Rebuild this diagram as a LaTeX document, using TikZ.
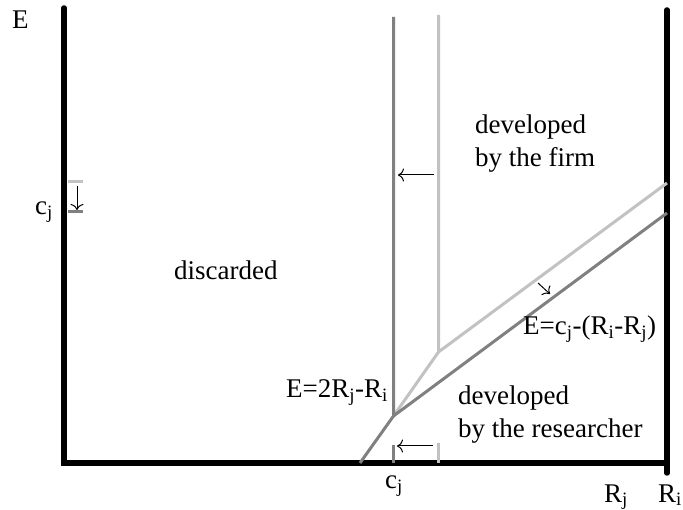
\documentclass[tikz,border=0pt]{standalone}
\usepackage{fontspec}
\setmainfont{Liberation Serif}
\usetikzlibrary{arrows.meta}
\definecolor{darkline}{gray}{0.5}
\definecolor{lightline}{gray}{0.76}
\begin{document}
\begin{tikzpicture}[
  x=1pt, y=-1pt,
  axis/.style={line width=5.5pt, line cap=round, draw=black},
  darkbd/.style={line width=3pt, draw=darkline},
  lightbd/.style={line width=3pt, draw=lightline},
  movearr/.style={-{To[length=6pt, width=13pt]}, line width=1pt},
  lbl/.style={anchor=base west, inner sep=0pt, font=\fontsize{27}{33}\selectfont, align=left},
]
\useasboundingbox (0,0) rectangle (683,510);

% ============================================================
% AXES
% ============================================================
\coordinate (top) at (64,8);
\coordinate (orig) at (64,463);
\coordinate (rend) at (667,463);
\coordinate (rtop) at (667,10);
\coordinate (rbot) at (667,473);
\draw[axis] (top) -- (orig) -- (rend);
\draw[axis] (rtop) -- (rbot);

% ============================================================
% BOUNDARIES (light = before, dark = after)
% ============================================================
\coordinate (ltop) at (438.5,15);
\coordinate (lkink) at (438.5,352);
\coordinate (lend) at (667,183);
\coordinate (dtop) at (393.5,17);
\coordinate (dkink) at (393.5,416);
\coordinate (dend) at (667,213);
\coordinate (dfoot) at (360,463);
\draw[lightbd] (ltop) -- (lkink) -- (lend);
\draw[lightbd] (lkink) -- (dkink);
\draw[darkbd] (dtop) -- (dkink) -- (dend);
\draw[darkbd] (dkink) -- (dfoot);

% ticks
\draw[lightbd] (68,182) coordinate (ltick) -- (83,182);
\draw[darkbd] (68,212) coordinate (dtick) -- (83,212);
\draw[lightbd] (438.5,443) coordinate (ltickb) -- (438.5,463);
\draw[darkbd] (393.5,445) coordinate (dtickb) -- (393.5,463);

% ============================================================
% SHIFT ARROWS
% ============================================================
\coordinate (a1s) at (77,186);  \coordinate (a1e) at (77,210);
\coordinate (a2s) at (434,175); \coordinate (a2e) at (398,175);
\coordinate (a3s) at (433,446); \coordinate (a3e) at (397,446);
\coordinate (a4s) at (538,283); \coordinate (a4e) at (550,294);
\draw[movearr] (a1s) -- (a1e);
\draw[movearr] (a2s) -- (a2e);
\draw[movearr] (a3s) -- (a3e);
\draw[movearr] (a4s) -- (a4e);

% ============================================================
% LABELS
% ============================================================
\node[lbl] (elab) at (12,29) {E};
\node[lbl] (cjl) at (35,215) {c\textsubscript{j}};
\node[lbl] (cjb) at (385,489) {c\textsubscript{j}};
\node[lbl] (rj) at (604,502) {R\textsubscript{j}};
\node[lbl] (ri) at (658,502) {R\textsubscript{i}};
\node[lbl] (disc) at (174,280) {discarded};
\node[lbl] (firm) at (475,167) {developed\\by the firm};
\node[lbl] (res) at (458,438) {developed\\by the researcher};
\node[lbl] (eq1) at (523,335) {E=c\textsubscript{j}-(R\textsubscript{i}-R\textsubscript{j})};
\node[lbl] (eq2) at (286,398) {E=2R\textsubscript{j}-R\textsubscript{i}};

\end{tikzpicture}
\end{document}
